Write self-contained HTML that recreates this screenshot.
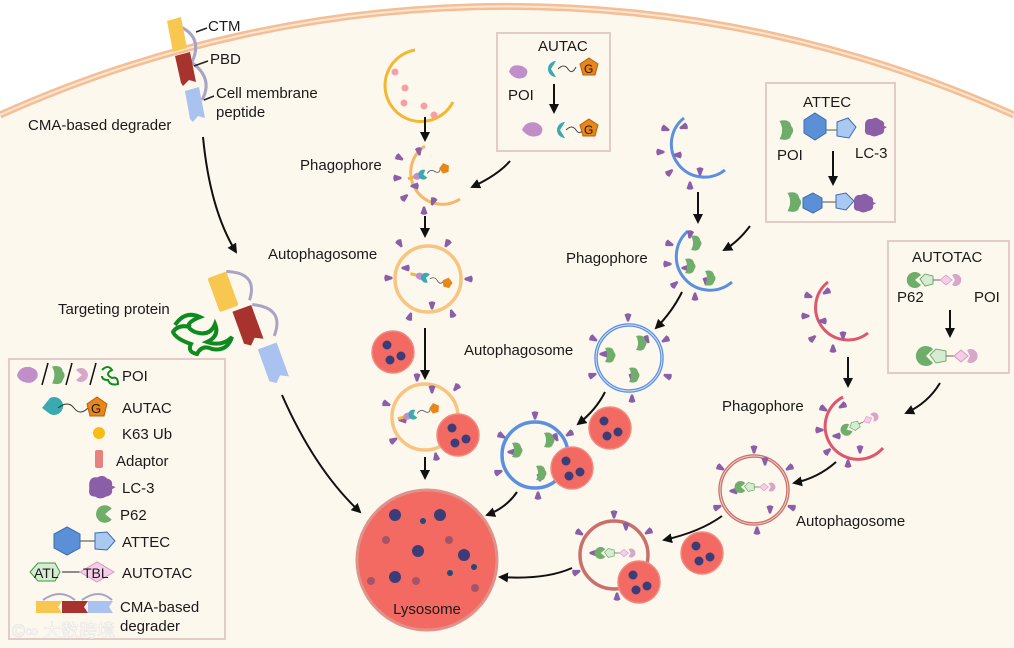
<!DOCTYPE html>
<html><head><meta charset="utf-8"><style>
html,body{margin:0;padding:0;background:#fff;width:1014px;height:648px;overflow:hidden;}
svg{display:block;font-family:"Liberation Sans","Noto Sans CJK SC",sans-serif;}
text{font-size:15px;fill:#1a1a1a;}
</style></head><body>
<svg width="1014" height="648" viewBox="0 0 1014 648" xmlns="http://www.w3.org/2000/svg">
<defs>
<marker id="ah" viewBox="0 0 10 10" refX="8" refY="5" markerWidth="5" markerHeight="5" orient="auto"><path d="M0,0 L10,5 L0,10 Z" fill="#111"/></marker>
<path id="lc" d="M-3.5,-3.5 Q0,-6 3.5,-3.5 L1,3.5 L-1,3.5 Z" fill="#8b5fa8"/>
<g id="lyso"><circle r="21" fill="#f26a62" stroke="#f08a80" stroke-width="1.5"/><circle cx="-6" cy="-7" r="4.5" fill="#3c3d78"/><circle cx="-3" cy="8" r="4.5" fill="#3c3d78"/><circle cx="8" cy="4" r="4.5" fill="#3c3d78"/></g>
<path id="p62" d="M7,-5 A8,8 0 1 0 7,5 L1,0 Z" fill="#6fae6a"/>
<path id="gpoi" d="M-5,-7 Q3,-9 4,-3 Q7,0 4,4 Q3,9 -5,7 Q-1,0 -5,-7 Z" fill="#6fae6a"/>
<path id="cloud" d="M-9,-3 Q-8,-9 -2,-8 Q2,-11 6,-7 Q11,-6 10,-1 L13,0 L10,2 Q11,7 5,8 Q0,11 -4,8 Q-10,8 -9,2 Z" fill="#8b5fa8"/>
<g id="autacmol"><path d="M-6,-5 L0,-5" stroke="#f2b73a" stroke-width="3"/><ellipse cx="4" cy="-5" rx="4.5" ry="3.5" fill="#c08fca"/><path d="M13,-9 A5,5 0 1 0 13,-1 L10,-5 Z" fill="#3aaab0"/><path d="M14,-5 q4,-4 8,0 t6,-2" stroke="#555" fill="none" stroke-width="0.8"/><path d="M32,-11 L37,-7 L35,-1 L29,-1 L27,-7 Z" fill="#e8861a"/></g>
<g id="autotacmol"><path d="M7,-5 A8,8 0 1 0 7,5 L1,0 Z" fill="#6fae6a"/><path d="M6,-1 L11,-6 L19,-4 L19,4 L11,6 Z" fill="#d5ecd2" stroke="#6fae6a"/><path d="M19,0 L26,0" stroke="#666"/><path d="M26,0 L32,-5 L38,0 L32,5 Z" fill="#f5cde6" stroke="#d79ac3" stroke-width="0.8"/><path d="M38,-5 A6,6 0 1 1 38,5 L41,0 Z" fill="#d7a6c8"/></g>
</defs>

<rect width="1014" height="648" fill="#fff"/>
<path d="M0,115 A1237,1237 0 0 1 1014,115 L1014,648 L0,648 Z" fill="#fdf8ee"/>
<path d="M0,115 A1237,1237 0 0 1 1014,115" fill="none" stroke="#f5be94" stroke-width="7"/>
<path d="M0,115 A1237,1237 0 0 1 1014,115" fill="none" stroke="#fbe6d3" stroke-width="2"/>

<!-- top CMA degrader -->
<path d="M181,27 Q203,38 192,62" stroke="#a9a3c4" stroke-width="3" fill="none"/>
<path d="M191,62 Q214,78 202,100" stroke="#a9a3c4" stroke-width="3" fill="none"/>
<path d="M167,21 L181,17 L187,48 L173,52 Z" fill="#f8c750"/>
<path d="M175,56 L190,52 L196,82 L189,80 L183,86 L181,83 Z" fill="#a8322e"/>
<path d="M185,91 L199,87 L205,118 L198,116 L193,122 L190,119 Z" fill="#a9c2f0"/>
<path d="M196,32 L207,28 M194,66 L208,61 M204,100 L214,96" stroke="#222" stroke-width="1.5"/>
<text x="208" y="31">CTM</text>
<text x="210" y="64">PBD</text>
<text x="216" y="98">Cell membrane</text>
<text x="216" y="117">peptide</text>
<text x="28" y="130">CMA-based degrader</text>
<path d="M203,137 Q210,210 236,252" stroke="#111" stroke-width="2" fill="none" marker-end="url(#ah)"/>

<!-- Targeting protein -->
<text x="58" y="314">Targeting protein</text>
<g transform="rotate(-20 245 320)">
<path d="M244,268 Q274,280 256,303" stroke="#a9a3c4" stroke-width="3" fill="none"/>
<path d="M257,308 Q287,322 267,345" stroke="#a9a3c4" stroke-width="3" fill="none"/>
<rect x="224" y="268" width="20" height="36" fill="#f8c750" rx="2"/>
<path d="M236,308 L256,308 L256,344 L248,340 L242,346 L236,342 Z" fill="#a8322e"/>
<path d="M247,352 L267,352 L267,388 L259,384 L253,390 L247,386 Z" fill="#a9c2f0"/>
</g>
<path d="M175,325 q10,-15 25,-8 q-20,8 -5,15 q15,5 20,-8 q5,12 -8,18 q15,5 25,-5 q-5,15 -20,12 q-10,-5 -15,5 q-10,-2 -6,-10 q-15,-5 -18,-12 q5,-8 18,-5" stroke="#0f8a1f" stroke-width="4" fill="none"/>
<path d="M282,395 Q315,470 360,512" stroke="#111" stroke-width="2" fill="none" marker-end="url(#ah)"/>

<!-- legend -->
<rect x="9" y="359" width="216" height="280" fill="#fdf8ee" stroke="#e3cbc8" stroke-width="2"/>
<path d="M17,375 Q20,366 30,367 Q40,370 37,378 Q32,385 24,382 Q18,380 17,375 Z" fill="#c08fca"/>
<path d="M42,385 L48,363" stroke="#111" stroke-width="1.5"/>
<use href="#gpoi" transform="translate(58,375) scale(1.2)"/>
<path d="M66,385 L72,363" stroke="#111" stroke-width="1.5"/>
<path d="M78,370 A7,7 0 1 1 78,380 L84,375 Z" fill="#d7a6c8" transform="translate(-2 0)"/>
<path d="M90,385 L96,363" stroke="#111" stroke-width="1.5"/>
<path d="M102,370 q6,-6 10,0 q-8,4 0,8 q6,-2 6,6 q-8,2 -10,-4 q-6,0 -6,-4" stroke="#0f8a1f" stroke-width="2" fill="none"/>
<text x="122" y="381">POI</text>
<path d="M58,400 A9,9 0 1 1 58,416 L50,410 Z" fill="#3aaab0" transform="translate(-8 -2)"/>
<path d="M58,408 q10,-8 16,0 t14,0" stroke="#333" fill="none"/>
<path d="M97,397 L107,404 L104,416 L90,416 L87,404 Z" fill="#e8861a" stroke="#b86010"/>
<text x="91" y="413" style="font-size:13px">G</text>
<text x="122" y="413">AUTAC</text>
<circle cx="99" cy="433" r="6" fill="#f7bc18"/>
<text x="122" y="439">K63 Ub</text>
<rect x="95" y="450" width="8" height="18" rx="2" fill="#e7837f"/>
<text x="116" y="466">Adaptor</text>
<use href="#cloud" transform="translate(100,487) scale(1.2)"/>
<text x="122" y="493">LC-3</text>
<use href="#p62" transform="translate(104,514) scale(1.1)"/>
<text x="120" y="520">P62</text>
<path d="M55,541 L95,541" stroke="#444"/>
<path d="M67,527 L80,534 L80,548 L67,555 L54,548 L54,534 Z" fill="#5b8fd6" stroke="#3b6db0"/>
<path d="M95,533 L107,532 L115,541 L107,550 L95,549 Z" fill="#a9c9f0" stroke="#3b6db0"/>
<text x="122" y="547">ATTEC</text>
<path d="M30,572 L38,563 L55,563 L60,572 L55,581 L38,581 Z" fill="#d5ecd2" stroke="#3f9a3f"/>
<text x="34" y="578" style="font-size:14px">ATL</text>
<path d="M62,572 L80,572" stroke="#222"/>
<path d="M80,572 L97,562 L114,572 L97,582 Z" fill="#f5cde6" stroke="#d79ac3"/>
<text x="83" y="578" style="font-size:14px">TBL</text>
<text x="122" y="578">AUTOTAC</text>
<path d="M43,600 Q60,588 75,600 M82,600 Q99,588 112,600" stroke="#a9a3c4" stroke-width="2" fill="none"/>
<path d="M36,601 L62,601 L58,607 L62,613 L36,613 Z" fill="#f8c750"/>
<path d="M62,601 L88,601 L84,607 L88,613 L62,613 Z" fill="#a8322e"/>
<path d="M88,601 L113,601 L109,607 L113,613 L88,613 Z" fill="#a9c2f0"/>
<text x="120" y="612">CMA-based</text>
<text x="120" y="631">degrader</text>
<text x="12" y="637" style="font-size:18px;fill:#fff;opacity:0.85;stroke:#ddd;stroke-width:0.5">©∞ 大数跨境</text>

<!-- big lysosome -->
<circle cx="427" cy="560" r="70" fill="#f26a62" stroke="#e0928a" stroke-width="3"/>
<g fill="#3c3d78"><circle cx="395" cy="515" r="6"/><circle cx="440" cy="515" r="6"/><circle cx="418" cy="551" r="6"/><circle cx="464" cy="555" r="6"/><circle cx="395" cy="577" r="6"/></g>
<g fill="#1e4c7a"><circle cx="423" cy="521" r="3"/><circle cx="450" cy="573" r="3"/><circle cx="474" cy="567" r="3"/></g>
<g fill="#a55468"><circle cx="386" cy="540" r="4"/><circle cx="449" cy="540" r="4"/><circle cx="371" cy="581" r="4"/><circle cx="416" cy="581" r="4"/><circle cx="475" cy="588" r="4"/></g>
<text x="427" y="614" text-anchor="middle">Lysosome</text>

<!-- AUTAC column -->
<path d="M415,50 A36,36 0 1 0 453,102" stroke="#f5b731" stroke-width="3" fill="none"/>
<g fill="#f5a0a8"><circle cx="395" cy="72" r="3.5"/><circle cx="405" cy="88" r="3.5"/><circle cx="404" cy="103" r="3.5"/><circle cx="424" cy="106" r="3.5"/><circle cx="434" cy="115" r="3.5"/></g>
<path d="M425,117 L425,140" stroke="#111" stroke-width="2" marker-end="url(#ah)"/>
<text x="300" y="170">Phagophore</text>
<path d="M425,146 A31,31 0 1 0 460,199" stroke="#f5b86a" stroke-width="3" fill="none"/>
<g><use href="#lc" transform="translate(400,158) rotate(-60)"/><use href="#lc" transform="translate(419,152) rotate(-10)"/><use href="#lc" transform="translate(398,178) rotate(-90)"/><use href="#lc" transform="translate(405,197) rotate(-130)"/><use href="#lc" transform="translate(424,210) rotate(180)"/><use href="#lc" transform="translate(433,202) rotate(20)"/><use href="#lc" transform="translate(414,186) rotate(90)"/></g>
<use href="#autacmol" transform="translate(415,182) rotate(-15)"/>
<path d="M425,216 L425,236" stroke="#111" stroke-width="2" marker-end="url(#ah)"/>
<text x="268" y="259">Autophagosome</text>
<circle cx="428" cy="279" r="33" fill="none" stroke="#f7c57f" stroke-width="3.5"/>
<g><use href="#lc" transform="translate(400,244) rotate(-30)"/><use href="#lc" transform="translate(447,244) rotate(30)"/><use href="#lc" transform="translate(389,278) rotate(-90)"/><use href="#lc" transform="translate(468,279) rotate(90)"/><use href="#lc" transform="translate(410,316) rotate(200)"/><use href="#lc" transform="translate(452,313) rotate(160)"/><use href="#lc" transform="translate(405,268) rotate(90)"/><use href="#lc" transform="translate(432,306) rotate(0)"/></g>
<use href="#autacmol" transform="translate(415,280) rotate(15)"/>
<use href="#lyso" transform="translate(393,352)"/>
<path d="M425,328 L425,378" stroke="#111" stroke-width="2" marker-end="url(#ah)"/>
<circle cx="425" cy="417" r="33" fill="none" stroke="#f7c57f" stroke-width="3.5"/>
<g><use href="#lc" transform="translate(417,378) rotate(0)"/><use href="#lc" transform="translate(456,388) rotate(40)"/><use href="#lc" transform="translate(387,404) rotate(-70)"/><use href="#lc" transform="translate(394,440) rotate(-120)"/><use href="#lc" transform="translate(436,456) rotate(170)"/><use href="#lc" transform="translate(432,390) rotate(0)"/><use href="#lc" transform="translate(402,420) rotate(90)"/></g>
<use href="#autacmol" transform="translate(405,422) rotate(-15)"/>
<use href="#lyso" transform="translate(458,435)"/>
<path d="M425,457 L425,478" stroke="#111" stroke-width="2" marker-end="url(#ah)"/>

<!-- AUTAC box -->
<rect x="497" y="33" width="113" height="118" fill="#fdf8ee" stroke="#e3cbc8" stroke-width="2"/>
<text x="538" y="51">AUTAC</text>
<path d="M509,70 Q511,61 522,64 Q531,68 525,75 Q516,80 509,70 Z" fill="#c08fca" transform="translate(0,2)"/>
<text x="508" y="100">POI</text>
<path d="M551,62 A8,8 0 1 0 551,78 L546,70 Z" fill="#3aaab0" transform="translate(5 -1)"/>
<path d="M558,69 q6,-6 10,0 t8,-2" stroke="#444" fill="none"/>
<path d="M589,58 L598,64 L595,75 L583,75 L580,64 Z" fill="#e8861a" stroke="#b86010"/>
<text x="584" y="73" style="font-size:12px">G</text>
<path d="M554,84 L554,112" stroke="#111" stroke-width="2" marker-end="url(#ah)"/>
<path d="M522,130 Q526,120 537,123 Q546,128 540,135 Q530,140 522,130 Z" fill="#c08fca"/>
<path d="M560,122 A8,8 0 1 0 560,138 L555,130 Z" fill="#3aaab0" transform="translate(5 0)"/>
<path d="M566,130 q6,-6 10,0 t8,-2" stroke="#444" fill="none"/>
<path d="M589,119 L598,125 L595,136 L583,136 L580,125 Z" fill="#e8861a" stroke="#b86010"/>
<text x="584" y="134" style="font-size:12px">G</text>
<path d="M510,161 Q498,175 472,187" stroke="#111" stroke-width="2" fill="none" marker-end="url(#ah)"/>

<!-- ATTEC column -->
<path d="M684,118 A33,33 0 1 0 725,170" stroke="#5b8fe0" stroke-width="3" fill="none"/>
<g><use href="#lc" transform="translate(666,129) rotate(-70)"/><use href="#lc" transform="translate(683,127) rotate(70)"/><use href="#lc" transform="translate(661,152) rotate(-90)"/><use href="#lc" transform="translate(677,155) rotate(90)"/><use href="#lc" transform="translate(670,172) rotate(-130)"/><use href="#lc" transform="translate(690,185) rotate(180)"/><use href="#lc" transform="translate(700,172) rotate(0)"/></g>
<path d="M698,192 L698,222" stroke="#111" stroke-width="2" marker-end="url(#ah)"/>
<text x="566" y="263">Phagophore</text>
<path d="M688,231 A31,31 0 1 0 732,282" stroke="#5b8fe0" stroke-width="3" fill="none"/>
<g><use href="#lc" transform="translate(670,244) rotate(-70)"/><use href="#lc" transform="translate(690,235) rotate(10)"/><use href="#lc" transform="translate(668,264) rotate(-90)"/><use href="#lc" transform="translate(685,268) rotate(90)"/><use href="#lc" transform="translate(675,284) rotate(-130)"/><use href="#lc" transform="translate(695,296) rotate(180)"/><use href="#lc" transform="translate(706,282) rotate(0)"/></g>
<use href="#gpoi" transform="translate(696,243)"/><use href="#gpoi" transform="translate(690,266)"/><use href="#gpoi" transform="translate(710,278)"/>
<path d="M750,226 Q738,242 724,250" stroke="#111" stroke-width="2" fill="none" marker-end="url(#ah)"/>
<path d="M682,292 Q672,312 656,328" stroke="#111" stroke-width="2" fill="none" marker-end="url(#ah)"/>
<text x="464" y="355">Autophagosome</text>
<circle cx="629" cy="358" r="33" fill="none" stroke="#5b8fe0" stroke-width="3.5"/>
<circle cx="629" cy="358" r="33" fill="none" stroke="#cfe0f8" stroke-width="1"/>
<g><use href="#lc" transform="translate(628,318) rotate(0)"/><use href="#lc" transform="translate(594,339) rotate(-60)"/><use href="#lc" transform="translate(665,340) rotate(60)"/><use href="#lc" transform="translate(593,375) rotate(-110)"/><use href="#lc" transform="translate(667,376) rotate(110)"/><use href="#lc" transform="translate(632,398) rotate(180)"/><use href="#lc" transform="translate(603,354) rotate(90)"/><use href="#lc" transform="translate(647,340) rotate(-30)"/><use href="#lc" transform="translate(632,378) rotate(0)"/></g>
<use href="#gpoi" transform="translate(610,355)"/><use href="#gpoi" transform="translate(641,343)"/><use href="#gpoi" transform="translate(634,375)"/>
<path d="M605,392 Q596,410 578,424" stroke="#111" stroke-width="2" fill="none" marker-end="url(#ah)"/>
<use href="#lyso" transform="translate(610,428)"/>
<circle cx="535" cy="455" r="33" fill="none" stroke="#5b8fe0" stroke-width="3.5"/>
<g><use href="#lc" transform="translate(535,416) rotate(0)"/><use href="#lc" transform="translate(502,436) rotate(-60)"/><use href="#lc" transform="translate(569,434) rotate(60)"/><use href="#lc" transform="translate(499,472) rotate(-110)"/><use href="#lc" transform="translate(538,495) rotate(180)"/><use href="#lc" transform="translate(511,452) rotate(90)"/><use href="#lc" transform="translate(540,478) rotate(0)"/><use href="#lc" transform="translate(556,438) rotate(-30)"/></g>
<use href="#gpoi" transform="translate(517,450)"/><use href="#gpoi" transform="translate(549,440)"/><use href="#gpoi" transform="translate(541,473)"/>
<use href="#lyso" transform="translate(572,468)"/>
<path d="M517,492 Q506,508 487,515" stroke="#111" stroke-width="2" fill="none" marker-end="url(#ah)"/>

<!-- ATTEC box -->
<rect x="766" y="83" width="129" height="139" fill="#fdf8ee" stroke="#e3cbc8" stroke-width="2"/>
<text x="803" y="107">ATTEC</text>
<use href="#gpoi" transform="translate(786,130) scale(1.3)"/>
<text x="777" y="160">POI</text>
<path d="M810,130 L840,130" stroke="#555"/>
<path d="M815,113 L826,120 L826,133 L815,140 L804,133 L804,120 Z" fill="#5b8fd6" stroke="#3b6db0"/>
<path d="M837,122 L848,118 L856,127 L849,138 L837,136 Z" fill="#a9c9f0" stroke="#3b6db0"/>
<use href="#cloud" transform="translate(874,127)"/>
<text x="855" y="158">LC-3</text>
<path d="M833,151 L833,184" stroke="#111" stroke-width="2" marker-end="url(#ah)"/>
<use href="#gpoi" transform="translate(794,202) scale(1.3)"/>
<path d="M813,202 L840,202" stroke="#555"/>
<path d="M813,193 L822,198 L822,208 L813,213 L803,208 L803,198 Z" fill="#5b8fd6" stroke="#3b6db0"/>
<path d="M836,195 L846,193 L854,201 L846,210 L836,208 Z" fill="#a9c9f0" stroke="#3b6db0"/>
<use href="#cloud" transform="translate(863,203)"/>

<!-- AUTOTAC column -->
<path d="M828,282 A31,31 0 1 0 868,333" stroke="#e0566c" stroke-width="3" fill="none"/>
<g><use href="#lc" transform="translate(809,296) rotate(-70)"/><use href="#lc" transform="translate(826,292) rotate(60)"/><use href="#lc" transform="translate(806,316) rotate(-90)"/><use href="#lc" transform="translate(822,321) rotate(90)"/><use href="#lc" transform="translate(813,338) rotate(-130)"/><use href="#lc" transform="translate(833,348) rotate(180)"/><use href="#lc" transform="translate(843,336) rotate(0)"/></g>
<path d="M848,357 L848,386" stroke="#111" stroke-width="2" marker-end="url(#ah)"/>
<text x="722" y="411">Phagophore</text>
<path d="M843,397 A33,33 0 1 0 883,448" stroke="#e0566c" stroke-width="3" fill="none"/>
<g><use href="#lc" transform="translate(824,409) rotate(-60)"/><use href="#lc" transform="translate(842,406) rotate(60)"/><use href="#lc" transform="translate(820,430) rotate(-90)"/><use href="#lc" transform="translate(836,436) rotate(90)"/><use href="#lc" transform="translate(828,451) rotate(-130)"/><use href="#lc" transform="translate(848,463) rotate(180)"/><use href="#lc" transform="translate(860,450) rotate(0)"/></g>
<use href="#autotacmol" transform="translate(846,430) rotate(-25) scale(0.75)"/>
<path d="M940,383 Q928,403 906,413" stroke="#111" stroke-width="2" fill="none" marker-end="url(#ah)"/>
<path d="M836,462 Q818,478 794,483" stroke="#111" stroke-width="2" fill="none" marker-end="url(#ah)"/>
<circle cx="754" cy="490" r="34" fill="none" stroke="#c9706a" stroke-width="3.5"/>
<circle cx="754" cy="490" r="34" fill="none" stroke="#f2cfc8" stroke-width="1"/>
<g><use href="#lc" transform="translate(754,450) rotate(0)"/><use href="#lc" transform="translate(721,468) rotate(-60)"/><use href="#lc" transform="translate(789,468) rotate(60)"/><use href="#lc" transform="translate(718,507) rotate(-110)"/><use href="#lc" transform="translate(791,507) rotate(110)"/><use href="#lc" transform="translate(757,530) rotate(180)"/><use href="#lc" transform="translate(733,491) rotate(90)"/><use href="#lc" transform="translate(765,462) rotate(0)"/><use href="#lc" transform="translate(770,510) rotate(0)"/></g>
<use href="#autotacmol" transform="translate(740,487) scale(0.75)"/>
<text x="796" y="526">Autophagosome</text>
<path d="M722,516 Q700,532 664,540" stroke="#111" stroke-width="2" fill="none" marker-end="url(#ah)"/>
<use href="#lyso" transform="translate(702,553)"/>
<circle cx="614" cy="555" r="34" fill="none" stroke="#c9706a" stroke-width="3.5"/>
<g><use href="#lc" transform="translate(614,515) rotate(0)"/><use href="#lc" transform="translate(580,533) rotate(-60)"/><use href="#lc" transform="translate(648,532) rotate(60)"/><use href="#lc" transform="translate(577,572) rotate(-110)"/><use href="#lc" transform="translate(617,596) rotate(180)"/><use href="#lc" transform="translate(593,553) rotate(90)"/><use href="#lc" transform="translate(626,527) rotate(0)"/></g>
<use href="#autotacmol" transform="translate(600,553) scale(0.75)"/>
<use href="#lyso" transform="translate(639,582)"/>
<path d="M572,568 Q545,580 500,577" stroke="#111" stroke-width="2" fill="none" marker-end="url(#ah)"/>

<!-- AUTOTAC box -->
<rect x="888" y="241" width="121" height="132" fill="#fdf8ee" stroke="#e3cbc8" stroke-width="2"/>
<text x="912" y="262">AUTOTAC</text>
<use href="#autotacmol" transform="translate(914,280)"/>
<text x="897" y="302">P62</text>
<text x="974" y="302">POI</text>
<path d="M950,310 L950,336" stroke="#111" stroke-width="2" marker-end="url(#ah)"/>
<g transform="translate(924,356)"><path d="M9,-7 A10,10 0 1 0 9,7 L2,0 Z" fill="#6fae6a"/><path d="M6,-1 L12,-7 L22,-5 L22,5 L12,7 Z" fill="#d5ecd2" stroke="#6fae6a"/><path d="M22,0 L30,0" stroke="#666"/><path d="M30,0 L37,-6 L44,0 L37,6 Z" fill="#f5cde6" stroke="#d79ac3"/><path d="M43,-6 A7,7 0 1 1 43,6 L46,0 Z" fill="#d7a6c8"/></g>
</svg>
</body></html>
